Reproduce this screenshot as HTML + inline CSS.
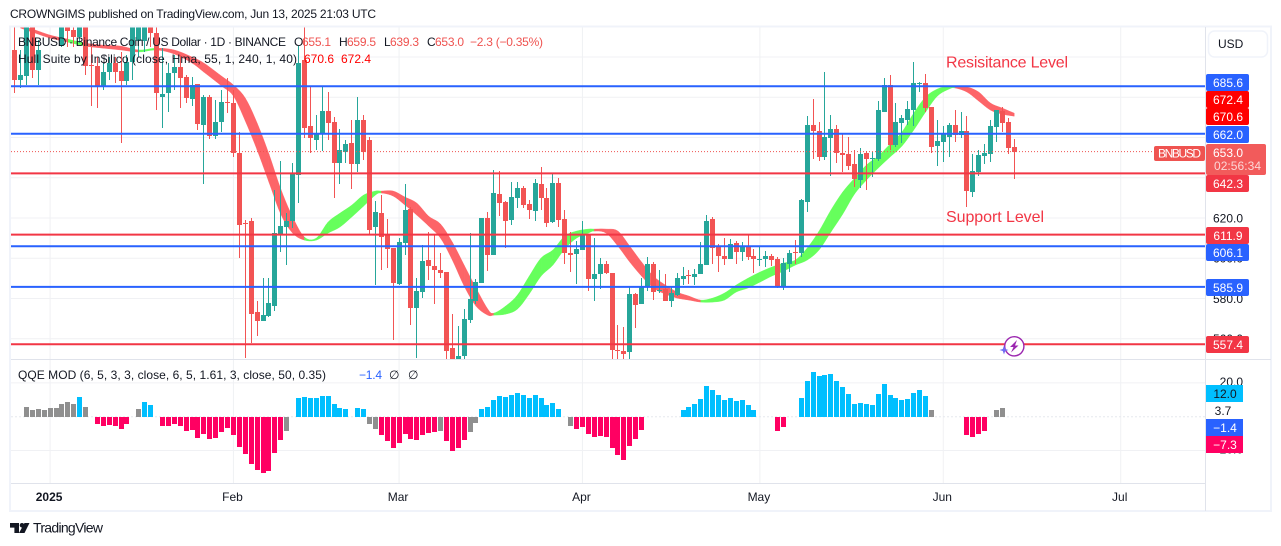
<!DOCTYPE html>
<html lang="en">
<head>
<meta charset="utf-8">
<title>BNBUSD chart</title>
<style>
html,body{margin:0;padding:0;background:#fff;width:1281px;height:546px;overflow:hidden}
svg{display:block;font-family:"Liberation Sans",Arial,sans-serif}
text{white-space:pre}
</style>
</head>
<body>
<svg id="chart" xmlns="http://www.w3.org/2000/svg" width="1281" height="546" viewBox="0 0 1281 546">
  <defs>
    <clipPath id="mainClip"><rect x="11" y="27.5" width="1194" height="331.5"/></clipPath>
    <clipPath id="qqeClip"><rect x="11" y="360" width="1194" height="123"/></clipPath>
  </defs>
  <rect x="0" y="0" width="1281" height="546" fill="#ffffff"/>
  <text x="10" y="18" font-size="12" fill="#131722" textLength="366" lengthAdjust="spacing">CROWNGIMS published on TradingView.com, Jun 13, 2025 21:03 UTC</text>
  <g id="gridLayer"></g>
  <g clip-path="url(#mainClip)">
    <g id="hullLayer"></g>
    <g id="candleLayer" shape-rendering="crispEdges"></g>
    <g id="levelLayer"></g>
  </g>
  <g clip-path="url(#qqeClip)">
    <g id="qqeLayer" shape-rendering="crispEdges"></g>
  </g>
  <rect x="10" y="26.5" width="1261" height="484.5" fill="none" stroke="#f0f3fa" stroke-width="2"/>
  <line x1="11" y1="359.5" x2="1271" y2="359.5" stroke="#e0e3eb"/>
  <line x1="11" y1="483.5" x2="1205" y2="483.5" stroke="#e0e3eb"/>
  <line x1="1205.5" y1="27" x2="1205.5" y2="511" stroke="#e0e3eb"/>
  <g id="tickLayer" font-size="12" fill="#131722"></g>

  <g font-size="12" fill="#131722">
    <text x="18" y="46" textLength="268" lengthAdjust="spacing">BNBUSD · Binance Coin / US Dollar · 1D · BINANCE</text>
    <text x="294" y="46">O</text>
    <text x="302" y="46" fill="#ef5350" textLength="29">655.1</text>
    <text x="339" y="46">H</text>
    <text x="347" y="46" fill="#ef5350" textLength="29">659.5</text>
    <text x="384" y="46">L</text>
    <text x="390" y="46" fill="#ef5350" textLength="29">639.3</text>
    <text x="427" y="46">C</text>
    <text x="435" y="46" fill="#ef5350" textLength="29">653.0</text>
    <text x="470" y="46" fill="#ef5350" textLength="73" lengthAdjust="spacing">−2.3 (−0.35%)</text>
    <text x="18" y="63" textLength="279" lengthAdjust="spacing">Hull Suite by In$ilico (close, Hma, 55, 1, 240, 1, 40)</text>
    <text x="304" y="63" fill="#ff0000" textLength="30">670.6</text>
    <text x="341" y="63" fill="#ff0000" textLength="30">672.4</text>
  </g>
  <g font-size="12" fill="#131722">
    <text x="18" y="379" textLength="308" lengthAdjust="spacing">QQE MOD (6, 5, 3, 3, close, 6, 5, 1.61, 3, close, 50, 0.35)</text>
    <text x="359" y="379" fill="#2962ff" textLength="23">−1.4</text>
    <text x="389" y="379">∅</text>
    <text x="408" y="379">∅</text>
  </g>

  <text x="946" y="67.5" font-size="16" fill="#f23645" textLength="122" lengthAdjust="spacing">Resisitance Level</text>
  <text x="946" y="222" font-size="16" fill="#f23645" textLength="98" lengthAdjust="spacing">Support Level</text>

  <g>
    <rect x="1208.5" y="31" width="59" height="26" rx="6" fill="#fff" stroke="#f0f3fa" stroke-width="1.5"/>
    <text x="1218" y="48" font-size="12" fill="#131722">USD</text>
  </g>

  <g font-size="12" fill="#fff" text-anchor="middle">
    <rect x="1206" y="74" width="43" height="17" rx="2" fill="#2962ff"/>
    <text x="1228" y="87">685.6</text>
    <rect x="1206" y="91" width="43" height="17" rx="2" fill="#ff0000"/>
    <text x="1228" y="104">672.4</text>
    <rect x="1206" y="108" width="43" height="17" rx="2" fill="#ff0000"/>
    <text x="1228" y="121">670.6</text>
    <rect x="1206" y="126" width="43" height="17" rx="2" fill="#2962ff"/>
    <text x="1228" y="139">662.0</text>
    <rect x="1154" y="146" width="51" height="15" rx="2" fill="#ef5350"/>
    <text x="1179.5" y="157.5" textLength="43">BNBUSD</text>
    <rect x="1206" y="144" width="60" height="31" rx="2" fill="#f25b5b"/>
    <text x="1228" y="157">653.0</text>
    <text x="1237.5" y="170" fill="#ffffff" fill-opacity="0.75" textLength="47">02:56:34</text>
    <rect x="1206" y="175" width="43" height="17" rx="2" fill="#f23645"/>
    <text x="1228" y="188">642.3</text>
    <rect x="1206" y="227" width="43" height="17" rx="2" fill="#f23645"/>
    <text x="1228" y="240">611.9</text>
    <rect x="1206" y="244" width="43" height="17" rx="2" fill="#2962ff"/>
    <text x="1228" y="257">606.1</text>
    <rect x="1206" y="279" width="43" height="17" rx="2" fill="#2962ff"/>
    <text x="1228" y="292">585.9</text>
    <rect x="1206" y="336" width="43" height="17" rx="2" fill="#f23645"/>
    <text x="1228" y="349">557.4</text>

    <rect x="1206" y="385" width="37" height="17" fill="#00bfff"/>
    <text x="1225" y="398" fill="#131722">12.0</text>
    <text x="1223" y="415" fill="#131722">3.7</text>
    <rect x="1206" y="419" width="37" height="17" fill="#2962ff"/>
    <text x="1225" y="432">−1.4</text>
    <rect x="1206" y="436" width="37" height="17" fill="#ff0062"/>
    <text x="1225" y="449">−7.3</text>
  </g>

  <g>
    <circle cx="1014.3" cy="346.3" r="9.6" fill="#fff" stroke="#9c27b0" stroke-width="1.4"/>
    <polygon points="1017,340 1010,347 1013.5,347 1011,352.5 1018.5,345.5 1015,345.5" fill="#9c27b0"/>
    <polygon points="1004,345.5 1005.2,349 1008.5,350 1005.2,351 1004,354.5 1002.8,351 999.5,350 1002.8,349" fill="#6f6cf5"/>
  </g>

  <g>
    <path d="M10 523h9v10h-4.6v-5.4H10z" fill="#131722"/>
    <circle cx="22" cy="525.3" r="2.3" fill="#131722"/>
    <polygon points="24.5,523 29.5,523 24.5,533 19,533" fill="#131722"/>
    <text x="33" y="532.5" font-size="14" fill="#131722" textLength="70" lengthAdjust="spacing">TradingView</text>
  </g>
</svg>
<script>
const firstCandleDay = -6;
const opens = [
703.5,688.5,690.5,715,693.5,722,726,722,705.4,716,
713.4,710,716,696,695.5,685.1,692.5,697,693,688,
697.5,708,708,716,712,680,682,692,695,690,
679.1,686.6,666.2,680.1,660.7,667.7,677.6,677.1,652.3,617.5,
618.5,573.2,568.8,571.2,576.2,612,615.5,618.5,641.3,698.5,
665.7,658.7,662.2,673.1,667.7,647.3,652.8,657.2,646.8,668.7,
658.7,615.5,622.4,611.5,605.1,587.1,607.5,624.4,575.2,583.2,
599.1,596.1,594.1,593.1,555.4,548,551.4,569.3,578.7,587.6,
620,601.6,631.9,627.9,619,629.9,634.9,626.9,623.4,636.9,
629.9,618,637.3,619.5,602.6,602.1,604.1,612,589.6,592.1,
597.1,592.6,554.4,553.9,553.4,582.2,577.2,585.7,597.1,583.7,
584.7,578.7,581.7,589.6,591.6,590.6,592.1,596.6,619.5,605.6,
601.1,599.6,607.5,603.1,606,601.1,599.1,599.6,601.1,599.6,
585.7,597.1,603.1,602.6,627.9,666.2,663.2,650.3,659.7,664.2,
652.3,651.8,646.8,638.8,652.3,649.3,649.3,672.6,686.1,656.2,
667.2,668.7,673.6,686.6,687.1,675.1,655.7,657.7,660.2,666.2,
661.2,663.2,632.9,642.8,650.8,651.8,665.2,673.1,667.7,655.1];
const highs = [
714.9,703.5,718,718,708.4,730,735,732,722,724,
715,722,722,705,700,697,700,700,702.5,701,
720,722,720,722,716,704.5,697,701,701,691,
690,686.6,681,681,678.6,683.6,689.5,683.6,662.7,619,
620,578.7,590.1,590.1,633.9,648.3,622.4,647.3,705.4,722,
685.1,671.1,685.6,682.6,670.1,664.2,658.7,668.7,680.1,671.1,
660.2,628.4,631.4,619.5,605.1,610,636.9,625.4,590.1,606.6,
613,611.5,602.6,593.1,572.2,566.3,574.7,612.5,589.6,620,
623,643.8,643.3,628.4,637.8,637.8,635.9,628.9,639.3,645.3,
634.9,641.8,639.8,623.9,613,608.5,618.5,612,610,600.1,
598.6,592.6,566.8,565.8,586.2,582.7,590.1,600.6,598.1,594.1,
592.1,586.2,592.6,595.6,594.1,594.6,608,621.5,620.5,607,
610,609.5,608.5,608,611.5,604.6,606,603.6,602.1,600.6,
600.1,604.1,609,629.4,670.6,679.1,667.7,692.5,671.1,666.2,
662.2,660.2,653.8,654.8,653.3,652.8,678.1,689.5,691,677.1,
671.1,678.1,697.5,687.6,691.5,675.1,668.7,665.7,667.2,673.6,
672.6,670.6,651.8,653.8,656.7,668.7,673.6,675.1,669.7,659.5];
const lows = [
682.1,684.6,686,689.5,686,716,718,717,705,705,
705,707,691,675.5,674.6,683.6,688.5,687,657.2,686,
688.5,700,702.5,705,673.6,664.7,672.6,683.6,674.6,677.1,
675.5,663.7,636.9,659.2,659.2,662.7,672.1,650.3,600.1,550.4,
557.8,561.3,568.8,570.7,573.7,603,596.6,615,627.4,659.7,
652.3,653.8,653.3,658.7,629.9,636.9,647.3,634.4,642.8,648.8,
611.5,586.6,594.1,595.1,559.3,586.6,601.6,566.8,550.4,580.2,
589.1,577.2,590.1,549.4,545,545,548,567.8,577.2,587.6,
593.6,601.6,620.9,605.1,616.5,624.9,624.9,619.5,618.5,623.9,
615.5,617.5,615.5,597.1,593.1,587.1,604.1,583.7,578.7,584.7,
592.1,549.9,549,549,549.9,565.3,577.2,583.7,579.2,582.7,
578.7,575.7,581.2,586.7,587.2,586.7,592.1,596.6,597.1,593.1,
596.6,599.6,597.1,598.6,599.1,592.6,596.1,595.6,596.1,585.2,
584.2,593.1,597.1,600.6,622.9,649.3,648.3,648.8,640.8,647.3,
642.8,643.8,635.4,634.9,633.9,640.3,648.3,672.6,653.8,655.2,
657.2,666.2,665.7,682.6,672.6,652.3,645.8,647.8,650.3,657.7,
659.7,625.4,630.4,640.8,646.8,647.8,657.7,662.7,651.8,639.3];
const closes = [
688.5,691,715,693.5,703.5,726,722,728,715,713,
710,715,695.5,695.5,685.1,692.5,697,692.5,688,697.5,
715,716,715,712,682.1,681.6,692,695,689.5,679.6,
686,666.7,680.1,660.7,667.7,677.6,677.1,652.3,616.5,617,
572.2,568.8,571.7,577.7,612.5,616,618.5,642.3,697,664.7,
659.7,662.2,673.1,667.2,647.3,653.8,656.7,646.8,668.7,652.8,
614,623,610.5,604.6,587.6,608,623.9,575.2,583.7,598.6,
596.1,594.1,592.6,553.9,548,551.4,569.8,579.7,588.1,620,
601.6,632.4,627.4,618.5,630.4,634.9,626.4,623.9,637.3,629.9,
617.5,637.3,619,602.6,601.6,604.6,611.5,589.6,592.1,597.1,
592.6,554.4,553.9,552.4,582.2,576.7,585.7,597.1,583.2,584.2,
578.7,582.7,590.1,591.1,591.1,592.1,597.1,618.5,605.1,601.1,
599.6,607,603.1,606,600.6,599.6,599.6,601.1,599.1,585.7,
597.6,602.6,602.6,628.9,666.2,663.2,650.3,660.2,664.2,652.3,
651.3,645.8,639.3,651.8,649.3,649.8,673.6,686.1,656.2,667.7,
669.7,674.1,687.1,687.1,674.6,655.2,658.2,661.7,666.2,661.2,
663.2,633.4,643.3,651.3,652.3,665.7,673.6,667.2,654.7,653];

const hullDays = [-5,-3,0,3,6,9,12,15,18,21,24,26,29,31,33,35,37,39,41,43,45,47,49,51,53,55,56,58,60,62,64,66,68,70,72,74,75,77,79,81,83,85,87,89,91,92,94,96,98,100,102,104,106,108,110,112,114,116,118,120,122,124,126,128,130,132,134,136,138,140,142,144,146,148,150,152,153,155,157,159,161,163];
const hullUpper = [715.4,713.9,710.9,708.9,706.9,705.9,705.4,703.5,704.4,703.5,700,697,690.5,686.1,679.6,667.2,651.8,634.4,620.5,610.5,610,618,622.4,626.4,631.4,633.4,633.4,633.4,630.4,627.4,620.9,617,608,596.6,585.2,574.7,572.7,576.2,581.7,591.1,600.1,604.1,611,613.5,614.5,614.5,614.5,613.5,606,598.1,591.1,586.7,583.2,581.2,579.2,580.2,582.7,586.7,590.1,593.1,595.6,597.6,599.1,605.1,613.5,623.9,632.9,639.8,646.3,650.8,656.7,662.7,672.1,680.1,684.1,685.6,685.1,685.1,682.6,677.1,674.6,672.1];
const hullLower = [714.4,712.4,709.4,707.4,705.4,704.4,703.5,702.5,703.5,701.5,697,692.5,685.6,680.6,668.2,653.8,637.8,621.9,612.5,609,609,612.5,615.5,620.5,625.9,631.4,632.4,630.9,626.4,621.4,616,610,599.1,586.2,576.2,571.7,571.7,572.2,574.7,582.2,591.1,596.6,604.6,610,612.5,613.5,612.5,606,598.1,591.1,585.2,582.2,580.2,579.2,578.2,578.2,579.2,583.2,585.2,588.1,591.1,593.6,596.6,599.1,604.1,613,621.9,631.9,638.8,644.8,650.3,655.7,663.7,672.6,680.6,684.1,684.6,682.6,678.1,673.6,671.6,670.6];
const hullGreenRanges = [[3,6],[15,18],[43,56],[75,92],[110,153]];

const firstQqeDay = -6;
const qqeValues = [null,null,
5.7,3.9,4.5,3.9,5.1,5.1,7.5,8.7,7.5,11.6,5.7,null,
-4.3,-5.5,-4.9,-5.5,-7.3,-4.3,null,
4.5,8.7,6.9,null,
-5.5,-5.5,-4.3,-5.5,-8.5,-7.9,-12.6,-10.3,-13.2,-12.6,-9.1,-6.7,-10.8,-17.9,-22.1,-28,-31.6,-33.3,-32.1,-21.5,-13.8,-8.5,null,
11,11.6,11,11,12.2,12.2,7.5,5.1,4.5,null,
5.1,4.5,
-4.3,-7.3,-10.8,-14.4,-18.5,-15.6,-10.3,-13.2,-13.8,-10.8,-9.7,
-9.1,-8.5,-14.4,-20.3,-18.5,-13.8,-9.1,-3.7,
4.5,5.7,9.9,12.2,11.6,12.8,14,12.8,11,12.8,11,6.9,8.1,4.5,null,
-5.5,-7.3,-6.1,-10.3,-12,-11.4,-12,-18.5,-22.7,-25.6,-17.4,-13.2,-7.9,
null,null,null,null,null,null,
3.9,5.7,7.5,10.5,18.1,15.8,12.8,9.9,11,9.3,9.9,6.9,3.9,
null,null,null,
-8.5,-6.1,null,null,
11,21.1,26.4,24.1,24.7,25.2,21.1,17.6,13.4,7.5,8.1,7.7,7.1,13.6,19.5,13,11.2,10.1,10.7,14.2,16,12.4,4.1,
null,null,null,null,null,
-10.7,-11.8,-10.1,-8.3,null,
4.1,5.3];
const qqeGrayDays = [-4,-3,-2,-1,0,1,2,3,4,6,15,40,54,55,66,71,72,88,149,160,161];

const levelValues = [685.6,662,642.3,611.9,606.1,585.9,557.4];
const levelKinds = ['blue','blue','red','red','blue','blue','red'];
const priceTicks = [700,680,660,640,620,600,580,560];
const priceTickLabels = ['', '', '', '', '620.0','600.0','580.0','560.0'];
const qqeTicks = [20,-20];
const qqeTickLabels = ['20.0','−20.0'];
const monthDays = [0,31,59,90,120,151,181];
const monthLabels = ['2025','Feb','Mar','Apr','May','Jun','Jul'];

const NS = 'http://www.w3.org/2000/svg';
function dayX(d){ return 50.1 + 5.915 * d; }
function priceY(p){ return (728.3 - p) * 2.012 + 0.1; }
function qqeY(v){ return 416.7 - v * 1.69; }
function make(tag, attrs, parent, txt){
  const el = document.createElementNS(NS, tag);
  for (const k in attrs) el.setAttribute(k, attrs[k]);
  if (txt !== undefined) el.textContent = txt;
  parent.appendChild(el);
  return el;
}
const gridLayer = document.getElementById('gridLayer');
const tickLayer = document.getElementById('tickLayer');
const hullLayer = document.getElementById('hullLayer');
const candleLayer = document.getElementById('candleLayer');
const levelLayer = document.getElementById('levelLayer');
const qqeLayer = document.getElementById('qqeLayer');

monthDays.forEach(function(d, i){
  const x = dayX(d);
  const v = make('line', {x1:x, x2:x, y1:27, y2:483, stroke:'#f0f1f4', 'stroke-width':1}, gridLayer);
  
  
  const attrs = {x:x - 1, y:501, 'text-anchor':'middle'};
  if (monthLabels[i] === '2025') attrs['font-weight'] = 'bold';
  const t = make('text', attrs, tickLayer, monthLabels[i]);
  
  
});
priceTicks.forEach(function(p, i){
  const y = priceY(p);
  const g = make('line', {x1:11, x2:1205, y1:y, y2:y, stroke:'#f0f1f4', 'stroke-width':1}, gridLayer);
  
  
  if (priceTickLabels[i]) {
    const t = make('text', {x:1243, y:y + 4.5, 'text-anchor':'end'}, tickLayer, priceTickLabels[i]);
    
    
  }
});
qqeTicks.forEach(function(v, i){
  const y = qqeY(v);
  const g = make('line', {x1:11, x2:1205, y1:y, y2:y, stroke:'#f0f1f4', 'stroke-width':1}, gridLayer);
  
  
  const t = make('text', {x:1243, y:y + 3, 'text-anchor':'end'}, tickLayer, qqeTickLabels[i]);
  
  
});
const zeroLine = make('line', {x1:11, x2:1205, y1:qqeY(0), y2:qqeY(0), stroke:'#e6e8ee', 'stroke-dasharray':'2 2'}, gridLayer);



function inGreen(d){
  return hullGreenRanges.some(function(r){ return d >= r[0] && d < r[1]; });
}
function spline(a, b, c, e, t){
  return 0.5 * (2*b + (c-a)*t + (2*a-5*b+4*c-e)*t*t + (3*b-a-3*c+e)*t*t*t);
}
for (let i = 0; i < hullDays.length - 1; i++) {
  const i0 = Math.max(i-1, 0), i3 = Math.min(i+2, hullDays.length-1);
  const top = [], bot = [];
  for (let s = 0; s <= 5; s++) {
    const t = s / 5;
    const dd = spline(hullDays[i0], hullDays[i], hullDays[i+1], hullDays[i3], t);
    const u = spline(hullUpper[i0], hullUpper[i], hullUpper[i+1], hullUpper[i3], t);
    const l = spline(hullLower[i0], hullLower[i], hullLower[i+1], hullLower[i3], t);
    top.push(dayX(dd).toFixed(2) + ',' + priceY(u).toFixed(2));
    bot.unshift(dayX(dd).toFixed(2) + ',' + priceY(l).toFixed(2));
  }
  const col = inGreen(hullDays[i]) ? '#66ff5c' : '#fd6468';
  const seg = make('polygon', {points:top.concat(bot).join(' '), fill:col, stroke:col, 'stroke-width':0.4}, hullLayer);
  
  
}

opens.forEach(function(o, i){
  const d = firstCandleDay + i;
  const c = closes[i];
  const col = c >= o ? '#26a69a' : '#f25454';
  const fx = Math.floor(dayX(d));
  const wy1 = Math.round(priceY(highs[i]));
  const wy2 = Math.round(priceY(lows[i]));
  const wick = make('rect', {x:fx, y:wy1, width:1, height:Math.max(1, wy2 - wy1), fill:col}, candleLayer);
  
  
  const by1 = Math.round(priceY(Math.max(o, c)));
  const by2 = Math.round(priceY(Math.min(o, c)));
  const body = make('rect', {x:fx - 2, y:by1, width:5, height:Math.max(1, by2 - by1), fill:col}, candleLayer);
  
  
});

levelValues.forEach(function(p, i){
  const y = priceY(p) + 0.3;
  const ln = make('line', {x1:11, x2:1205, y1:y, y2:y, stroke:levelKinds[i] === 'blue' ? '#2962ff' : '#f23645', 'stroke-width':2}, levelLayer);
  
  
});
const lastY = priceY(closes[closes.length - 1]);
const lastLine = make('line', {x1:11, x2:1154, y1:lastY, y2:lastY, stroke:'#ef5350', 'stroke-width':1, 'stroke-dasharray':'1 2'}, levelLayer);



qqeValues.forEach(function(v, i){
  if (v === null) return;
  const d = firstQqeDay + i;
  const gray = qqeGrayDays.indexOf(d) >= 0;
  const col = gray ? '#8f8f8f' : (v > 0 ? '#00bfff' : '#ff0062');
  const y0 = Math.round(qqeY(0));
  const y1 = Math.round(qqeY(v));
  const bar = make('rect', {x:Math.floor(dayX(d)) - 2, y:Math.min(y0, y1), width:5, height:Math.max(1, Math.abs(y1 - y0)), fill:col}, qqeLayer);
  
  
});
</script>
</body>
</html>
